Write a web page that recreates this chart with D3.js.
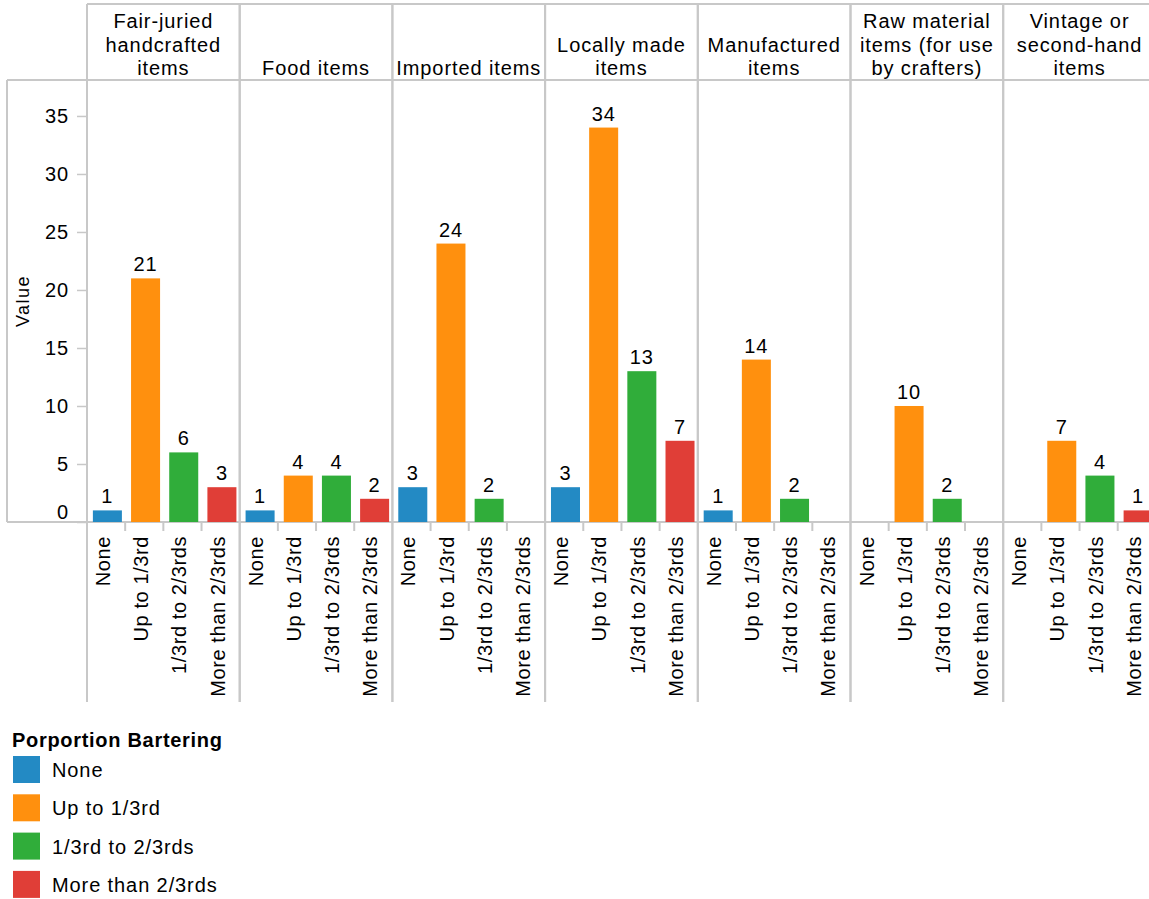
<!DOCTYPE html>
<html>
<head>
<meta charset="utf-8">
<script src="https://cdn.jsdelivr.net/npm/d3@7"></script>
<style>
  html, body { margin: 0; padding: 0; background: #fff; }
  svg { display: block; }
  text { font-family: "Liberation Sans", Arial, Helvetica, sans-serif; fill: #000; letter-spacing: 0.9px; }
</style>
</head>
<body>
<svg id="chart" width="1149" height="899"></svg>
<script>
// ---- data ----
const groups = ["Fair-juried handcrafted items", "Food items", "Imported items", "Locally made items",
                "Manufactured items", "Raw material items (for use by crafters)", "Vintage or second-hand items"];
const groupLines = [
  ["Fair-juried", "handcrafted", "items"],
  ["Food items"],
  ["Imported items"],
  ["Locally made", "items"],
  ["Manufactured", "items"],
  ["Raw material", "items (for use", "by crafters)"],
  ["Vintage or", "second-hand", "items"]
];
const categories = ["None", "Up to 1/3rd", "1/3rd to 2/3rds", "More than 2/3rds"];
const valuesNone      = [1, 1, 3, 3, 1, null, null];
const valuesUpTo      = [21, 4, 24, 34, 14, 10, 7];
const valuesMiddle    = [6, 4, 2, 13, 2, 2, 4];
const valuesMoreThan  = [3, 2, null, 7, null, null, 1];
const yTicks = [0, 5, 10, 15, 20, 25, 30, 35];
const colors = ["#238ac4", "#ff900e", "#30ad3a", "#e03e37"];
const legendTitle = "Porportion Bartering";
const yTitle = "Value";

const series = [valuesNone, valuesUpTo, valuesMiddle, valuesMoreThan];

// ---- layout ----
const svg = d3.select("#chart");
const gridColor = "#c8c8c8";
const leftX = 87, panelW = 152.7, topY = 4, headerBottom = 80, baseY = 522, bottomY = 702;

const panel = d3.scaleBand().domain(groups).range([leftX, leftX + panelW * groups.length]);
const xEdge = d3.scaleBand().domain(categories).range([0, panelW]);
const xBar = d3.scaleBand().domain(categories).range([0, panelW]).paddingInner(0.24).paddingOuter(0.12);
const y = d3.scaleLinear().domain([0, 38.1]).range([baseY, headerBottom]);
const color = d3.scaleOrdinal().domain(categories).range(colors);

const font = 20;

// header & frame lines
const lines = svg.append("g").attr("stroke", gridColor).attr("stroke-width", 2).attr("fill", "none");
lines.append("line").attr("x1", leftX).attr("x2", 1149).attr("y1", topY).attr("y2", topY);
lines.append("line").attr("x1", 7).attr("x2", 1149).attr("y1", headerBottom).attr("y2", headerBottom);
lines.append("line").attr("x1", 7).attr("x2", 1149).attr("y1", baseY).attr("y2", baseY);
lines.append("line").attr("x1", 7).attr("x2", 7).attr("y1", headerBottom).attr("y2", baseY);
groups.forEach(g => {
  const x0 = panel(g);
  lines.append("line").attr("x1", x0).attr("x2", x0).attr("y1", topY).attr("y2", bottomY);
  lines.append("line").attr("x1", x0 + panelW).attr("x2", x0 + panelW).attr("y1", topY).attr("y2", bottomY);
  categories.slice(1).forEach(c => {
    const xt = x0 + xEdge(c);
    lines.append("line").attr("x1", xt).attr("x2", xt).attr("y1", baseY).attr("y2", baseY + 9);
  });
});

// y axis
const yAxisG = svg.append("g").attr("transform", `translate(${leftX},0)`)
  .call(d3.axisLeft(y).tickValues(yTicks).tickSize(10).tickPadding(8).tickFormat(d3.format("d")));
yAxisG.select(".domain").remove();
yAxisG.selectAll(".tick line").attr("stroke", gridColor).attr("stroke-width", 1.5);
yAxisG.selectAll(".tick text").attr("font-size", font).attr("font-family", null).attr("fill", "#000")
  .attr("dy", d => d === 0 ? "-0.2em" : "0.35em");

svg.append("text").attr("transform", `translate(29,${(headerBottom + baseY) / 2}) rotate(-90)`)
  .attr("text-anchor", "middle").attr("font-size", 18).style("letter-spacing", "1.5px").text(yTitle);

// header labels
groups.forEach((g, gi) => {
  const cx = panel(g) + panelW / 2;
  const ls = groupLines[gi];
  ls.forEach((t, li) => {
    svg.append("text").attr("x", cx).attr("y", 75 - (ls.length - 1 - li) * 23.5)
      .attr("text-anchor", "middle").attr("font-size", font).text(t);
  });
});

// bars and values
groups.forEach((g, gi) => {
  const gp = svg.append("g").attr("transform", `translate(${panel(g)},0)`);
  categories.forEach((c, ci) => {
    const v = series[ci][gi];
    if (v !== null) {
      gp.append("rect").attr("x", xBar(c) + 1.3).attr("width", xBar.bandwidth())
        .attr("y", y(v)).attr("height", baseY - y(v)).attr("fill", color(c));
      gp.append("text").attr("x", xBar(c) + 1.3 + xBar.bandwidth() / 2).attr("y", y(v) - 7)
        .attr("text-anchor", "middle").attr("font-size", font).text(v);
    }
    const lx = xEdge(c) + xEdge.bandwidth() / 2 + 4;
    gp.append("text").attr("transform", `translate(${lx},536) rotate(-90)`)
      .attr("text-anchor", "end").attr("font-size", font).style("letter-spacing", "0.6px").text(c);
  });
});

// legend
const lg = svg.append("g");
lg.append("text").attr("x", 12).attr("y", 747).attr("font-size", font).attr("font-weight", "bold")
  .style("letter-spacing", "0.7px").text(legendTitle);
categories.forEach((c, i) => {
  const yy = 756 + i * 38.3;
  lg.append("rect").attr("x", 13).attr("y", yy).attr("width", 27).attr("height", 27).attr("fill", color(c));
  lg.append("text").attr("x", 52).attr("y", yy + 21).attr("font-size", font).text(c);
});
</script>
</body>
</html>
